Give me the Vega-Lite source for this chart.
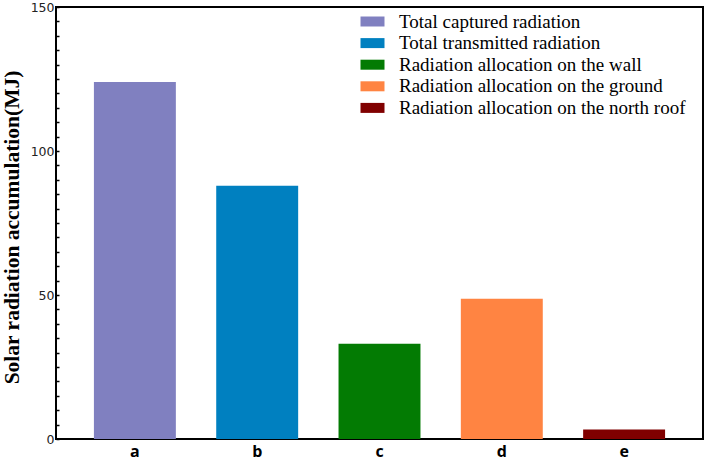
{
  "$schema": "https://vega.github.io/schema/vega-lite/v6.json",
  "width": 647,
  "height": 432,
  "autosize": {"type": "none"},
  "padding": {"left": 56, "top": 7, "right": 3, "bottom": 23},
  "background": "white",
  "config": {
    "view": {"stroke": "black", "strokeWidth": 2},
    "axis": {"domain": false, "grid": false}
  },
  "data": {
    "values": [
      {"cat": "a", "series": "Total captured radiation", "value": 124.0},
      {"cat": "b", "series": "Total transmitted radiation", "value": 87.9},
      {"cat": "c", "series": "Radiation allocation on the wall", "value": 33.1},
      {"cat": "d", "series": "Radiation allocation on the ground", "value": 48.7},
      {"cat": "e", "series": "Radiation allocation on the north roof", "value": 3.3}
    ]
  },
  "mark": {"type": "bar"},
  "encoding": {
    "x": {
      "field": "cat",
      "type": "nominal",
      "sort": null,
      "scale": {"paddingInner": 0.33, "paddingOuter": 0.31},
      "axis": {
        "title": null,
        "labelAngle": 0,
        "tickSize": -3,
        "tickColor": "black",
        "tickWidth": 1.5,
        "labelPadding": 7,
        "labelFont": "Open Sans",
        "labelFontWeight": "bold",
        "labelFontSize": 16,
        "labelColor": "black"
      }
    },
    "y": {
      "field": "value",
      "type": "quantitative",
      "scale": {"domain": [0, 150], "nice": false},
      "axis": {
        "title": "Solar radiation accumulation(MJ)",
        "titleFont": "Liberation Serif",
        "titleFontWeight": "bold",
        "titleFontSize": 21.5,
        "titleColor": "black",
        "titleAngle": 270,
        "titleAlign": "center",
        "titleBaseline": "middle",
        "titleX": -44,
        "titleY": 220,
        "values": [0,5,10,15,20,25,30,35,40,45,50,55,60,65,70,75,80,85,90,95,100,105,110,115,120,125,130,135,140,145,150],
        "labelExpr": "datum.value % 50 === 0 ? datum.label : ''",
        "tickSize": -3,
        "tickColor": "black",
        "tickWidth": 1.5,
        "labelPadding": 5,
        "labelFont": "DejaVu Sans",
        "labelFontSize": 12.5,
        "labelColor": "#222222",
        "labelOverlap": false
      }
    },
    "color": {
      "field": "series",
      "type": "nominal",
      "sort": null,
      "scale": {
        "domain": ["Total captured radiation", "Total transmitted radiation", "Radiation allocation on the wall", "Radiation allocation on the ground", "Radiation allocation on the north roof"],
        "range": ["#8080C0", "#0080C0", "#037B03", "#FF8442", "#800000"]
      },
      "legend": {
        "title": null,
        "orient": "none",
        "legendX": 307,
        "legendY": 5,
        "padding": 0,
        "symbolType": "M-2.4,-1H2.4V1H-2.4Z",
        "symbolSize": 100,
        "symbolStrokeWidth": 0,
        "symbolOpacity": 1,
        "labelFont": "Liberation Serif",
        "labelFontSize": 19,
        "labelColor": "black",
        "labelOffset": 17,
        "labelLimit": 400,
        "rowPadding": 1.6
      }
    }
  }
}
